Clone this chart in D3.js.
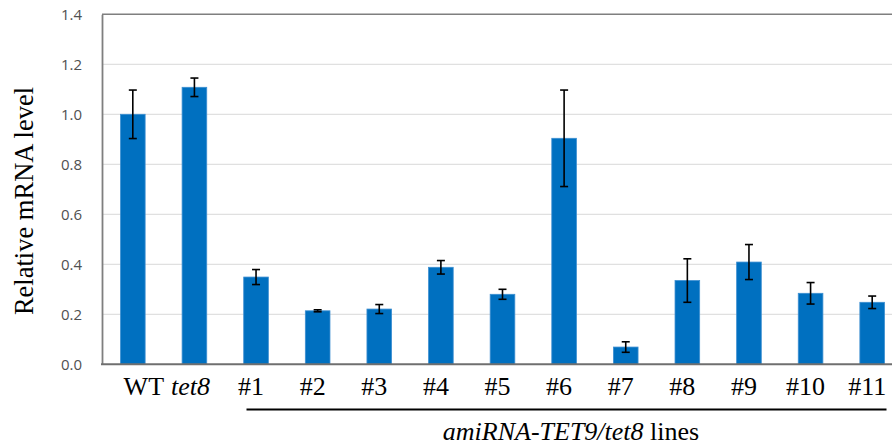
<!DOCTYPE html>
<html>
<head>
<meta charset="utf-8">
<script src="https://cdn.jsdelivr.net/npm/d3@7"></script>
<style>
  html, body { margin: 0; padding: 0; background: #fff; }
  svg { display: block; }
</style>
</head>
<body>
<svg id="chart" width="892" height="447"></svg>
<script>
const categories = ["WT", "tet8", "#1", "#2", "#3", "#4", "#5", "#6", "#7", "#8", "#9", "#10", "#11"];
const values = [1.000, 1.108, 0.349, 0.214, 0.221, 0.388, 0.280, 0.904, 0.069, 0.335, 0.409, 0.284, 0.248];
const errors = [0.097, 0.037, 0.030, 0.004, 0.018, 0.027, 0.020, 0.193, 0.021, 0.087, 0.070, 0.043, 0.025];
const yTicks = [0, 0.2, 0.4, 0.6, 0.8, 1.0, 1.2, 1.4];
const italicCats = ["tet8"];

(function () {
const svg = d3.select("#chart");
const mLeft = 102, mRight = 903, mTop = 14.3, mBottom = 364.3;

const x = d3.scaleBand().domain(categories).range([mLeft, mRight]).paddingInner(0.6).paddingOuter(0.3);
const y = d3.scaleLinear().domain([0, 1.4]).range([mBottom, mTop]);

// gridlines
svg.append("g").selectAll("line").data(yTicks.filter(t => t > 0 && t < 1.4)).join("line")
  .attr("x1", mLeft).attr("x2", 892)
  .attr("y1", d => y(d)).attr("y2", d => y(d))
  .attr("stroke", "#e0e0e0").attr("stroke-width", 1.2);

// top border
svg.append("line").attr("x1", mLeft).attr("x2", 892).attr("y1", y(1.4)).attr("y2", y(1.4))
  .attr("stroke", "#7f7f7f").attr("stroke-width", 1.6);

// bars
svg.append("g").selectAll("rect").data(categories).join("rect")
  .attr("x", d => x(d))
  .attr("width", x.bandwidth())
  .attr("y", (d, i) => y(values[i]))
  .attr("height", (d, i) => y(0) - y(values[i]))
  .attr("fill", "#0070C0")
  .attr("stroke", "#3d8fd1").attr("stroke-width", 0.8);

// error bars
const eg = svg.append("g").attr("stroke", "#000").attr("stroke-width", 1.6);
categories.forEach((c, i) => {
  const cx = x(c) + x.bandwidth() / 2;
  const y1 = y(values[i] + errors[i]), y2 = y(values[i] - errors[i]);
  eg.append("line").attr("x1", cx).attr("x2", cx).attr("y1", y1).attr("y2", y2);
  eg.append("line").attr("x1", cx - 4).attr("x2", cx + 4).attr("y1", y1).attr("y2", y1);
  eg.append("line").attr("x1", cx - 4).attr("x2", cx + 4).attr("y1", y2).attr("y2", y2);
});

// y axis
const yAxis = d3.axisLeft(y).tickValues(yTicks).tickFormat(d3.format(".1f")).tickSize(0).tickPadding(20);
const ya = svg.append("g").attr("transform", `translate(${mLeft},0)`).call(yAxis);
ya.select(".domain").attr("stroke", "#7f7f7f").attr("stroke-width", 1.8);
ya.selectAll("text").attr("font-family", "'Open Sans', sans-serif").attr("font-size", 15).attr("fill", "#505050");

// baseline
svg.append("line").attr("x1", mLeft - 1).attr("x2", 892).attr("y1", y(0)).attr("y2", y(0))
  .attr("stroke", "#6f6f6f").attr("stroke-width", 2);

// x labels
const labelOffsets = {"WT": 11, "tet8": -4};
const xl = svg.append("g").attr("font-family", "'Liberation Serif', 'Times New Roman', serif").attr("font-size", 26).attr("fill", "#000");
categories.forEach(c => {
  xl.append("text")
    .attr("x", x(c) + x.bandwidth() / 2 + (labelOffsets[c] !== undefined ? labelOffsets[c] : -5))
    .attr("y", 395)
    .attr("text-anchor", "middle")
    .attr("font-style", italicCats.includes(c) ? "italic" : "normal")
    .text(c);
});

// y title
svg.append("text")
  .attr("transform", "translate(33,201) rotate(-90)")
  .attr("text-anchor", "middle")
  .attr("font-family", "'Liberation Serif', 'Times New Roman', serif")
  .attr("font-size", 26.5)
  .attr("fill", "#000")
  .text("Relative mRNA level");

// group line and label
svg.append("line").attr("x1", 246.5).attr("x2", 886.5).attr("y1", 409.5).attr("y2", 409.5)
  .attr("stroke", "#000").attr("stroke-width", 2.2);
const gt = svg.append("text")
  .attr("x", 571).attr("y", 440)
  .attr("text-anchor", "middle")
  .attr("font-family", "'Liberation Serif', 'Times New Roman', serif")
  .attr("font-size", 26).attr("fill", "#000");
gt.append("tspan").attr("font-style", "italic").text("amiRNA-TET9/tet8");
gt.append("tspan").text(" lines");
})();
</script>
</body>
</html>
